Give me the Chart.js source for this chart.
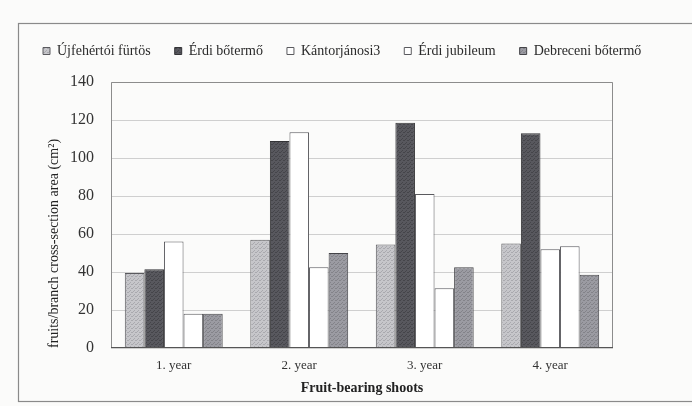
<!DOCTYPE html>
<html>
<head>
<meta charset="utf-8">
<script src="https://cdn.jsdelivr.net/npm/chart.js@4.4.1/dist/chart.umd.min.js"></script>
<style>
  html, body { margin: 0; padding: 0; background: #fbfbfa; }
  #wrap { width: 692px; height: 406px; position: relative; }
</style>
</head>
<body>
<div id="wrap"><canvas id="c" width="692" height="406"></canvas></div>
<script>
// Fruit count per branch cross-section area, by age of the bearing shoot
const years = ['1. year', '2. year', '3. year', '4. year'];
const seriesNames = ['Újfehértói fürtös', 'Érdi bőtermő', 'Kántorjánosi3', 'Érdi jubileum', 'Debreceni bőtermő'];
const ujfehertoi = [39.5, 57, 54.5, 55];
const erdiBotermo = [41.5, 109, 118.5, 113];
const kantorjanosi = [56, 113.5, 81, 52];
const erdiJubileum = [18, 42.5, 31.5, 53.5];
const debreceni = [18, 50, 42.5, 38.5];
const yTicks = [0, 20, 40, 60, 80, 100, 120, 140];

// stippled fills, like a printed halftone
function stipple(base, dot) {
  const t = document.createElement('canvas');
  t.width = 4; t.height = 4;
  const g = t.getContext('2d');
  g.fillStyle = base; g.fillRect(0, 0, 4, 4);
  g.fillStyle = dot;
  g.fillRect(0, 0, 1, 1); g.fillRect(2, 2, 1, 1);
  g.fillRect(3, 0, 1, 1); g.fillRect(1, 3, 1, 1);
  return g.createPattern(t, 'repeat');
}
const ctx = document.getElementById('c').getContext('2d');
const fills = [
  stipple('#c6c6ca', '#a9a9ae'),
  stipple('#58585e', '#45454a'),
  '#ffffff',
  '#ffffff',
  stipple('#9b9ba2', '#838389')
];
const borders = ['#5a5a5e', '#333336', '#5a5a5e', '#5a5a5e', '#444448'];
const values = [ujfehertoi, erdiBotermo, kantorjanosi, erdiJubileum, debreceni];

const SERIF = '"Liberation Serif", "DejaVu Serif", serif';

// frame around the whole figure and the box around the plot
const framePlugin = {
  id: 'frames',
  beforeDraw(chart) {
    const c = chart.ctx;
    c.save();
    c.strokeStyle = '#8a8a8a';
    c.lineWidth = 1.2;
    c.strokeRect(18.5, 23.5, 690, 378);
    c.restore();
  },
  afterDatasetsDraw(chart) {
    const a = chart.chartArea;
    const c = chart.ctx;
    c.save();
    c.strokeStyle = '#8c8c8c';
    c.lineWidth = 1;
    c.beginPath();
    c.moveTo(a.left + 0.5, a.bottom);
    c.lineTo(a.left + 0.5, a.top + 0.5);
    c.lineTo(a.right - 0.5, a.top + 0.5);
    c.lineTo(a.right - 0.5, a.bottom);
    c.stroke();
    c.strokeStyle = '#555';
    c.beginPath();
    c.moveTo(a.left, a.bottom - 0.5);
    c.lineTo(a.right, a.bottom - 0.5);
    c.stroke();
    c.restore();
  }
};

// keep the legend row a fixed height
const legendHeight = {
  id: 'legendHeight',
  beforeLayout(chart) {
    const lg = chart.legend;
    if (lg && !lg._fixed) {
      const fit = lg.fit.bind(lg);
      lg.fit = function () { fit(); this.height = 62; };
      lg._fixed = true;
    }
  }
};

new Chart(ctx, {
  type: 'bar',
  data: {
    labels: years,
    datasets: seriesNames.map((name, i) => ({
      label: name,
      data: values[i],
      backgroundColor: fills[i],
      borderColor: borders[i],
      borderWidth: 1,
      borderSkipped: 'bottom',
      categoryPercentage: 0.78,
      barPercentage: 1.0
    }))
  },
  options: {
    responsive: false,
    animation: false,
    devicePixelRatio: 1,
    layout: { padding: { top: 20, left: 19, right: 10, bottom: 0 } },
    plugins: {
      legend: {
        position: 'top',
        align: 'start',
        labels: {
          boxWidth: 7,
          boxHeight: 7,
          padding: 24,
          color: '#2a2a2a',
          font: { family: SERIF, size: 14 }
        }
      },
      tooltip: { enabled: false }
    },
    scales: {
      x: {
        grid: { display: false, drawTicks: false },
        border: { display: false },
        ticks: { color: '#333', font: { family: SERIF, size: 13 }, padding: 10 },
        title: {
          display: true,
          text: 'Fruit-bearing shoots',
          color: '#222',
          font: { family: SERIF, size: 14, weight: 'bold' },
          padding: { top: 0, bottom: 9 }
        },
        afterFit(scale) { scale.height = 58; }
      },
      y: {
        min: 0,
        max: 140,
        afterBuildTicks(scale) { scale.ticks = yTicks.map(v => ({ value: v })); },
        grid: { color: '#cfcfcf', lineWidth: 1, drawTicks: false },
        border: { display: false },
        ticks: { color: '#333', font: { family: SERIF, size: 16 }, padding: 17 },
        title: {
          display: true,
          text: 'fruits/branch cross-section area (cm²)',
          color: '#222',
          align: 'start',
          font: { family: SERIF, size: 14 },
          padding: { top: 27, bottom: 0 }
        },
        afterFit(scale) { scale.width = 92; }
      },
      // empty margin to the right of the plot box
      yMargin: {
        axis: 'y',
        position: 'right',
        grid: { display: false, drawTicks: false },
        border: { display: false },
        ticks: { display: false },
        afterFit(scale) { scale.width = 69; }
      }
    }
  },
  plugins: [framePlugin, legendHeight]
});
</script>
</body>
</html>
